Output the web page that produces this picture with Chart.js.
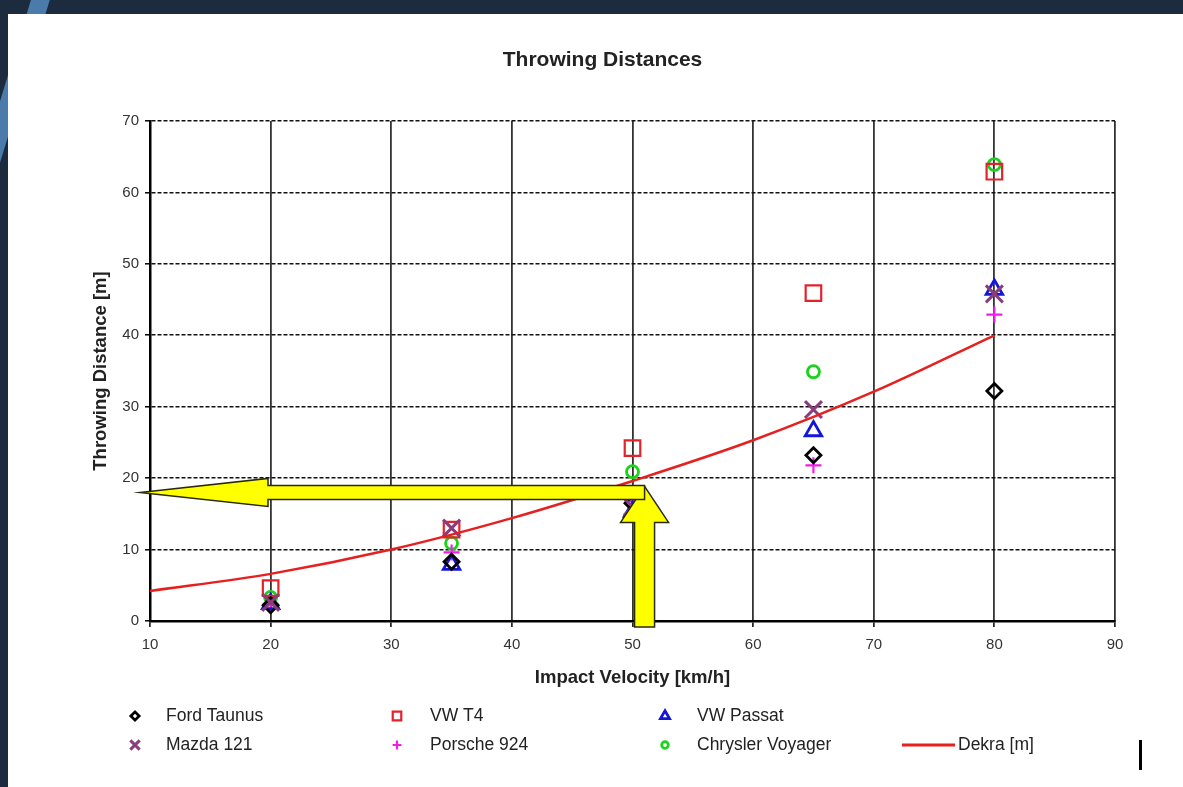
<!DOCTYPE html>
<html>
<head>
<meta charset="utf-8">
<script src="https://cdn.jsdelivr.net/npm/chart.js@4.4.0/dist/chart.umd.min.js"></script>
<style>
  html, body { margin: 0; padding: 0; }
  body { width: 1183px; height: 787px; overflow: hidden; position: relative; background: #1c2c3e; }
  #stripe { position: absolute; left: 13px; top: -90px; width: 18px; height: 300px; background: #4a7bab; transform: rotate(17deg); }
  #panel { position: absolute; left: 8px; top: 14px; width: 1175px; height: 773px; background: #fff; }
  #bar { position: absolute; left: 1139px; top: 740px; width: 3px; height: 30px; background: #000; }
</style>
</head>
<body>
<div id="stripe"></div>
<div id="panel"><canvas id="throwChart" width="1175" height="773"></canvas></div>
<div id="bar"></div>
<script>
// values
const speeds = [20, 35, 50, 65, 80];
const fordTaunus = [2.2, 8.3, 16.5, 23.2, 32.2];
const vwT4 = [4.6, 12.8, 24.2, 45.9, 62.9];
const vwPassat = [2.4, 7.9, 15.3, 26.6, 46.4];
const mazda121 = [2.6, 13.0, 16.0, 29.6, 45.8];
const porsche924 = [2.4, 9.6, 16.8, 21.8, 42.9];
const chryslerVoyager = [3.3, 10.9, 20.9, 34.9, 63.9];
const dekraSpeeds = [10, 20, 30, 40, 50, 60, 70, 80];
const dekraDist = [4.2, 6.6, 10.0, 14.4, 19.6, 25.3, 32.1, 40.0];
const xTicks = [10, 20, 30, 40, 50, 60, 70, 80, 90];
const yTicks = [0, 10, 20, 30, 40, 50, 60, 70];
// where the yellow arrows read the curve
const arrowSpeed = 51;
const arrowDist = 18;

const pts = (ys, xs) => ys.map((v, i) => ({ x: (xs || speeds)[i], y: v }));
const FONT = '"Liberation Sans", Arial, sans-serif';

function marker(label, data, style, color, radius, width, slot) {
  return {
    label: label, data: pts(data), showLine: false,
    pointStyle: style, pointRadius: radius, pointHoverRadius: radius,
    borderColor: color, backgroundColor: 'transparent', pointBorderWidth: width,
    legendSlot: slot
  };
}

const datasets = [
  {
    label: 'Dekra [m]', data: pts(dekraDist, dekraSpeeds), showLine: true,
    borderColor: '#e5201f', borderWidth: 2.5, pointRadius: 0, tension: 0.4,
    cubicInterpolationMode: 'monotone', legendSlot: [3, 1]
  },
  marker('Mazda 121', mazda121, 'crossRot', '#8a3d7c', 12, 3, [0, 1]),
  marker('Ford Taunus', fordTaunus, 'rectRot', '#000000', 7.5, 2.8, [0, 0]),
  marker('VW T4', vwT4, 'rect', '#e3232c', 11, 2.2, [1, 0]),
  marker('VW Passat', vwPassat, 'triangle', '#1515d8', 9.5, 2.8, [2, 0]),
  marker('Porsche 924', porsche924, 'cross', '#f01ee6', 8, 2.2, [1, 1]),
  marker('Chrysler Voyager', chryslerVoyager, 'circle', '#19d419', 6, 2.8, [2, 1])
];

// yellow read-off arrows
const yellowArrows = {
  id: 'yellowArrows',
  afterDatasetsDraw(chart) {
    const { ctx, chartArea } = chart;
    const px = chart.scales.x.getPixelForValue(arrowSpeed);
    const py = chart.scales.y.getPixelForValue(arrowDist);
    ctx.save();
    ctx.fillStyle = '#ffff00';
    ctx.strokeStyle = '#2a2a10';
    ctx.lineWidth = 1.5;
    const bottom = chartArea.bottom + 6;
    ctx.beginPath();
    ctx.moveTo(px - 10, bottom);
    ctx.lineTo(px - 10, py + 30);
    ctx.lineTo(px - 24, py + 30);
    ctx.lineTo(px, py - 6);
    ctx.lineTo(px + 24, py + 30);
    ctx.lineTo(px + 10, py + 30);
    ctx.lineTo(px + 10, bottom);
    ctx.closePath();
    ctx.fill();
    ctx.stroke();
    const tip = chartArea.left - 10;
    ctx.beginPath();
    ctx.moveTo(px, py - 7);
    ctx.lineTo(tip + 128, py - 7);
    ctx.lineTo(tip + 128, py - 14);
    ctx.lineTo(tip, py);
    ctx.lineTo(tip + 128, py + 14);
    ctx.lineTo(tip + 128, py + 7);
    ctx.lineTo(px, py + 7);
    ctx.closePath();
    ctx.fill();
    ctx.stroke();
    ctx.restore();
  }
};

// legend grid below the axis title
const gridLegend = {
  id: 'gridLegend',
  afterDraw(chart) {
    const ctx = chart.ctx;
    const colMarker = [127, 389, 657, 894];
    const colText = [158, 422, 689, 950];
    const rowY = [702, 731];
    ctx.save();
    ctx.font = '17.5px ' + FONT;
    ctx.textBaseline = 'middle';
    ctx.textAlign = 'left';
    chart.data.datasets.forEach(ds => {
      const [c, r] = ds.legendSlot;
      const y = rowY[r];
      ctx.strokeStyle = ds.borderColor;
      ctx.fillStyle = 'transparent';
      if (ds.showLine) {
        ctx.lineWidth = 3;
        ctx.beginPath();
        ctx.moveTo(colMarker[c], y);
        ctx.lineTo(colMarker[c] + 53, y);
        ctx.stroke();
      } else {
        ctx.lineWidth = ds.pointBorderWidth;
        Chart.helpers.drawPoint(ctx, {
          pointStyle: ds.pointStyle, rotation: 0,
          radius: ds.pointRadius * 0.55, borderWidth: ds.pointBorderWidth
        }, colMarker[c], y);
      }
      ctx.fillStyle = '#222';
      ctx.fillText(ds.label, colText[c], y);
    });
    ctx.restore();
  }
};

const tickFont = { family: FONT, size: 15 };
const titleFont = { family: FONT, size: 18.5, weight: 'bold' };

new Chart(document.getElementById('throwChart'), {
  type: 'scatter',
  data: { datasets: datasets },
  plugins: [yellowArrows, gridLegend],
  options: {
    responsive: false,
    animation: false,
    layout: { padding: { left: 82, right: 68, top: 33.5, bottom: 98.3 } },
    plugins: {
      legend: { display: false },
      tooltip: { enabled: false },
      title: {
        display: true, text: 'Throwing Distances', color: '#222',
        font: { family: FONT, size: 21, weight: 'bold' },
        padding: { top: 0, bottom: 48.3 }
      }
    },
    scales: {
      x: {
        type: 'linear', min: 10, max: 90,
        afterBuildTicks: s => { s.ticks = xTicks.map(v => ({ value: v })); },
        afterFit: s => { s.height = 67.7; },
        ticks: { color: '#333', font: tickFont, padding: 9, maxRotation: 0 },
        grid: { color: '#333', lineWidth: 1.8, tickLength: 6, tickColor: '#000', tickWidth: 1.5 },
        border: { display: true, color: '#000', width: 2.5 },
        title: { display: true, text: 'Impact Velocity [km/h]', color: '#222', font: titleFont, padding: 0 }
      },
      y: {
        type: 'linear', min: 0, max: 70,
        afterBuildTicks: s => { s.ticks = yTicks.map(v => ({ value: v })); },
        afterFit: s => { s.width = 60; },
        ticks: { color: '#333', font: tickFont, padding: 6 },
        grid: { color: '#111', lineWidth: 1.6, tickLength: 5, tickColor: '#000', tickWidth: 1.5 },
        border: { display: true, color: '#000', width: 2.5, dash: [4, 2] },
        title: { display: true, text: 'Throwing Distance [m]', color: '#222', font: titleFont, padding: 0 }
      }
    }
  }
});
</script>
</body>
</html>
